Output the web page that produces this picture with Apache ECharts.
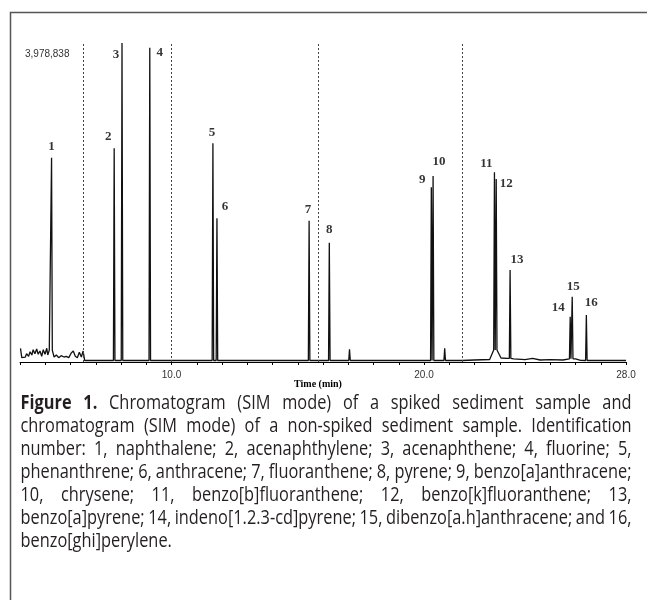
<!DOCTYPE html>
<html>
<head>
<meta charset="utf-8">
<script src="https://cdn.jsdelivr.net/npm/echarts@6/dist/echarts.min.js"></script>
<style>
html,body{margin:0;padding:0;background:#fff;}
#chart{width:647px;height:600px;}
</style>
</head>
<body>
<div id="chart"></div>
<script>
// ---------------- DATA ----------------
const peakLabels  = ['1','2','3','4','5','6','7','8','9','10','11','12','13','14','15','16'];
const peakTimes   = [5.25, 7.73, 8.04, 9.14, 11.64, 11.80, 15.45, 16.25, 20.29, 20.36, 22.79, 22.86, 23.41, 25.79, 25.87, 26.43];
const peakHeights = [2548000, 2666000, 3978838, 3920000, 2728000, 1792000, 1762000, 1488000, 2179000, 2320000, 2366000, 2283000, 1148000, 565000, 814000, 586000];

const minorPeakTimes   = [17.05, 20.82];
const minorPeakHeights = [158000, 171000];

const baselineTimes  = [4.02, 4.07, 4.21, 4.26, 4.34, 4.40, 4.47, 4.52, 4.59, 4.66, 4.72, 4.79, 4.86, 4.92, 4.99, 5.06, 5.10, 5.16,
                        5.35, 5.44, 5.53, 5.63, 5.74, 5.83, 5.93, 6.03, 6.11, 6.19, 6.27, 6.35, 6.43, 6.50, 6.56,
                        21.50, 22.00, 22.60, 22.95, 23.05, 23.30, 23.55, 24.00, 24.30, 24.60, 25.00, 25.50, 26.00, 26.20, 26.60, 28.00];
const baselineValues = [171000, 54000, 62000, 104000, 71000, 128000, 87000, 153000, 104000, 162000, 96000, 137000, 71000, 153000, 96000, 171000, 87000, 146000,
                        62000, 87000, 54000, 79000, 62000, 71000, 54000, 112000, 137000, 72000, 54000, 121000, 62000, 137000, 19000,
                        19000, 25000, 31000, 150000, 50000, 45000, 40000, 30000, 45000, 25000, 30000, 25000, 40000, 20000, 19000, 19000];

const windowTimes  = [6.5, 10.0, 15.8, 21.5];   // SIM window boundaries (dashed)
const xTickLabels  = [10, 20, 28];
const xMin = 4, xMax = 28, xStep = 1;
const yMax = 3978838;
const xAxisTitle = 'Time (min)';

const captionLines = [
  'Figure 1. Chromatogram (SIM mode) of a spiked sediment sample and',
  'chromatogram (SIM mode) of a non-spiked sediment sample. Identification',
  'number: 1, naphthalene; 2, acenaphthylene; 3, acenaphthene; 4, fluorine; 5,',
  'phenanthrene; 6, anthracene; 7, fluoranthene; 8, pyrene; 9, benzo[a]anthracene;',
  '10, chrysene; 11, benzo[b]fluoranthene; 12, benzo[k]fluoranthene; 13,',
  'benzo[a]pyrene; 14, indeno[1.2.3-cd]pyrene; 15, dibenzo[a.h]anthracene; and 16,',
  'benzo[ghi]perylene.'
];
const captionBoldWords = 2;

// ---------------- BUILD ----------------
const PEAK_HALF_WIDTH = 0.03;
function nearestBaseline(t) {
  let best = 0, bd = Infinity;
  for (let i = 0; i < baselineTimes.length; i++) {
    const d = Math.abs(baselineTimes[i] - t);
    if (d < bd) { bd = d; best = i; }
  }
  return baselineValues[best];
}
const tracePts = [];
for (let i = 0; i < baselineTimes.length; i++) tracePts.push([baselineTimes[i], baselineValues[i]]);
const allPeakT = peakTimes.concat(minorPeakTimes);
const allPeakH = peakHeights.concat(minorPeakHeights);
for (let i = 0; i < allPeakT.length; i++) {
  const t = allPeakT[i], foot = nearestBaseline(t);
  tracePts.push([t - PEAK_HALF_WIDTH, foot]);
  tracePts.push([t, allPeakH[i]]);
  tracePts.push([t + PEAK_HALF_WIDTH, foot]);
}
tracePts.sort((a, b) => a[0] - b[0]);

// label placement relative to the apex (px)
const LABEL_OFFSETS = [[0,-11],[-6,-12],[-6,12],[10,5],[-1,-11],[8,-12],[-1,-11],[0,-13],[-9,-8],[6,-14],[-8,-9],[10,5],[7,-10],[-12,-9],[1,-10],[5,-12]];
const labelData = peakTimes.map((t, i) => ({
  value: [t, peakHeights[i]],
  name: peakLabels[i],
  label: { offset: LABEL_OFFSETS[i] }
}));

// caption layout (justified, horizontally condensed)
const CAP_FAMILY = 'Open Sans';
const CAP_SIZE = 20;
const mctx = document.createElement('canvas').getContext('2d');
function measure(text, bold) {
  mctx.font = (bold ? '700 ' : '400 ') + CAP_SIZE + 'px "' + CAP_FAMILY + '"';
  return mctx.measureText(text).width;
}
const CAP_LEFT = 20.5, CAP_WIDTH = 611, CAP_TOP = 403, CAP_LEAD = 23;
const capWords = captionLines.map((ln, li) => ln.split(' ').map((w, wi) => ({ t: w, b: li === 0 && wi < captionBoldWords })));
let natMax = 0;
capWords.forEach(ws => {
  let w = 0;
  ws.forEach((o, i) => { w += measure(o.t, o.b); if (i) w += measure(' ', false) * 0.8; });
  natMax = Math.max(natMax, w);
});
const capScale = Math.min(1, (CAP_WIDTH - 1) / natMax);
const captionGraphics = [];
capWords.forEach((ws, li) => {
  const widths = ws.map(o => measure(o.t, o.b) * capScale);
  const total = widths.reduce((a, b) => a + b, 0);
  const last = li === capWords.length - 1;
  const gap = (!last && ws.length > 1) ? (CAP_WIDTH - total) / (ws.length - 1) : measure(' ', false) * capScale * 0.8;
  let x = CAP_LEFT;
  ws.forEach((o, i) => {
    captionGraphics.push({
      type: 'text', x: x, y: CAP_TOP + li * CAP_LEAD, scaleX: capScale, silent: true,
      style: { text: o.t, fontFamily: CAP_FAMILY, fontSize: CAP_SIZE, fontWeight: o.b ? 700 : 400, fill: '#231f20', verticalAlign: 'middle', align: 'left' }
    });
    x += widths[i] + gap;
  });
});

const chart = echarts.init(document.getElementById('chart'), null, { renderer: 'canvas' });
chart.setOption({
  animation: false,
  backgroundColor: '#fff',
  grid: { left: 20, right: 21, top: 43, bottom: 238, containLabel: false },
  xAxis: {
    type: 'value', min: xMin, max: xMax, interval: xStep,
    axisLine: { show: true, onZero: false, lineStyle: { color: '#000', width: 1 } },
    axisTick: { show: true, length: 3, lineStyle: { color: '#000', width: 1 } },
    axisLabel: {
      show: true, margin: 8, fontSize: 10, color: '#333', fontFamily: 'Liberation Sans',
      formatter: v => xTickLabels.indexOf(Math.round(v)) >= 0 && Math.abs(v - Math.round(v)) < 1e-6 ? v.toFixed(1) : ''
    },
    splitLine: { show: false }
  },
  yAxis: {
    type: 'value', min: 0, max: yMax, show: false,
    splitLine: { show: false }
  },
  series: [
    {
      type: 'line', data: tracePts, showSymbol: false, symbol: 'none', smooth: false,
      lineStyle: { color: '#111', width: 1.3 }, silent: true,
      markLine: {
        silent: true, symbol: 'none', animation: false,
        label: { show: false },
        lineStyle: { type: [2, 2], color: '#444', width: 1 },
        data: windowTimes.map(t => ({ xAxis: t }))
      }
    },
    {
      type: 'scatter', data: labelData, symbolSize: 0, silent: true,
      label: {
        show: true, position: 'inside', formatter: p => p.name,
        fontFamily: 'Liberation Serif', fontWeight: 'bold', fontSize: 13, color: '#000'
      }
    }
  ],
  graphic: [
    { type: 'rect', silent: true, shape: { x: 10.5, y: 12.5, width: 700, height: 700 }, style: { fill: 'none', stroke: '#555', lineWidth: 1.5 } },
    { type: 'text', x: 25, y: 54, silent: true, style: { text: yMax.toLocaleString('en-US'), fontFamily: 'Liberation Sans', fontSize: 10, fill: '#333', verticalAlign: 'middle', align: 'left' } },
    { type: 'text', x: 318, y: 384, silent: true, style: { text: xAxisTitle, fontFamily: 'Liberation Serif', fontWeight: 'bold', fontSize: 10, fill: '#000', verticalAlign: 'middle', align: 'center' } }
  ].concat(captionGraphics)
});
</script>
</body>
</html>
